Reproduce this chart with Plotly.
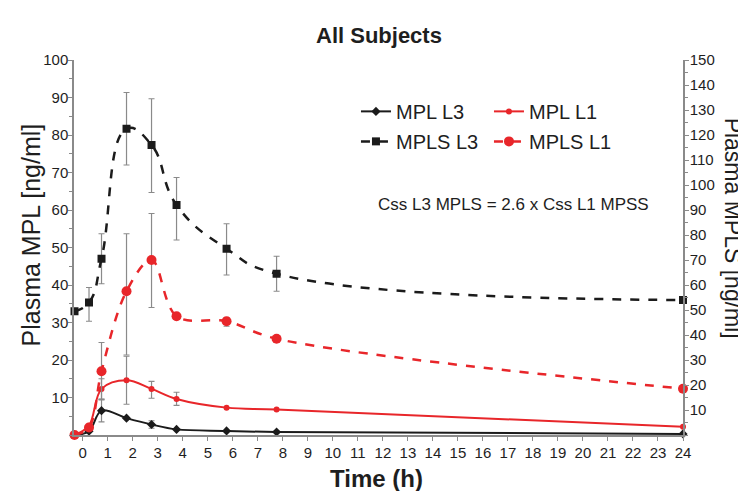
import plotly.graph_objects as go

# ---- data ----
time_h = [-0.33, 0.25, 0.75, 1.75, 2.75, 3.75, 5.75, 7.75, 24]

mpl_l3 = [0, 1.0, 6.5, 4.5, 2.8, 1.5, 1.1, 0.8, 0.3]
mpl_l3_err_up = [0, 0, 3.0, 0, 1.0, 0, 0, 0, 0]
mpl_l3_err_dn = [0, 0, 3.0, 0, 1.0, 0, 0, 0, 0]

mpl_l1 = [0, 2.5, 12.3, 14.6, 12.3, 9.6, 7.3, 6.8, 2.2]
mpl_l1_err_up = [0, 0, 2.7, 6.4, 2.0, 1.8, 0, 0, 0]
mpl_l1_err_dn = [0, 0, 2.7, 6.4, 2.5, 1.7, 0, 0, 0]

mpls_l3 = [49.5, 53, 70.5, 122.5, 116, 92, 74.5, 64.5, 54]
mpls_l3_err_up = [0, 6, 10, 14.5, 18.5, 11, 10, 7, 0]
mpls_l3_err_dn = [0, 7.5, 10, 14.5, 19, 14, 10.5, 7, 0]

mpls_l1 = [0, 3, 25.5, 57.5, 70, 47.5, 45.5, 38.5, 18.5]
mpls_l1_err_up = [0, 0, 11.5, 23, 18.6, 0, 1.5, 0, 0]
mpls_l1_err_dn = [0, 0, 11.5, 25.5, 19, 0, 2, 0, 0]

x_ticks = list(range(0, 25))
left_ticks = list(range(10, 101, 10))
right_ticks = list(range(10, 151, 10))

BLACK = "#1b1b1b"
RED = "#e8262a"
GRAY = "#8a8a8a"
TXT = "#1e1e1e"
FONT = "Liberation Sans, Arial, sans-serif"


def err(up, dn):
    return dict(type="data", symmetric=False, array=up, arrayminus=dn,
                color=GRAY, thickness=1.2, width=3)


fig = go.Figure()
fig.add_trace(go.Scatter(
    x=time_h, y=mpls_l3, name="MPLS L3", yaxis="y2", mode="lines+markers",
    line=dict(color=BLACK, width=2.5, dash="dash", shape="spline", smoothing=1.3),
    marker=dict(symbol="square", size=8, color=BLACK),
    error_y=err(mpls_l3_err_up, mpls_l3_err_dn), cliponaxis=False, legend="legend2"))
fig.add_trace(go.Scatter(
    x=time_h, y=mpls_l1, name="MPLS L1", yaxis="y2", mode="lines+markers",
    line=dict(color=RED, width=2.5, dash="dash", shape="spline", smoothing=1.0),
    marker=dict(symbol="circle", size=10, color=RED),
    error_y=err(mpls_l1_err_up, mpls_l1_err_dn), cliponaxis=False, legend="legend2"))
fig.add_trace(go.Scatter(
    x=time_h, y=mpl_l3, name="MPL L3", mode="lines+markers",
    line=dict(color=BLACK, width=2, shape="spline", smoothing=1.0),
    marker=dict(symbol="diamond", size=7, color=BLACK),
    error_y=err(mpl_l3_err_up, mpl_l3_err_dn), cliponaxis=False, legend="legend"))
fig.add_trace(go.Scatter(
    x=time_h, y=mpl_l1, name="MPL L1", mode="lines+markers",
    line=dict(color=RED, width=2, shape="spline", smoothing=1.0),
    marker=dict(symbol="circle", size=6, color=RED),
    error_y=err(mpl_l1_err_up, mpl_l1_err_dn), cliponaxis=False, legend="legend"))

axis_common = dict(showgrid=False, zeroline=False, showline=True, linecolor=GRAY,
                   linewidth=1.5, ticks="outside", tickcolor=GRAY, ticklen=4,
                   tickfont=dict(family=FONT, size=15, color=TXT))

legend_common = dict(orientation="h", x=0.463, xanchor="left", yanchor="top",
                     entrywidth=88, entrywidthmode="pixels", traceorder="normal",
                     font=dict(size=20, family=FONT, color=TXT), bgcolor="rgba(0,0,0,0)")

fig.update_layout(
    width=746, height=491,
    margin=dict(l=66, r=71, t=52, b=64),
    plot_bgcolor="white", paper_bgcolor="white",
    font=dict(family=FONT, color=TXT),
    showlegend=True,
    xaxis=dict(range=[-0.35, 24], tickmode="array", tickvals=x_ticks,
               ticklabelstandoff=-1, **axis_common),
    yaxis=dict(range=[0, 100], tickmode="array", tickvals=left_ticks,
               minor=dict(dtick=5, ticks="outside", ticklen=3, tickcolor=GRAY),
               ticklabelstandoff=-3, **axis_common),
    yaxis2=dict(range=[0, 150], overlaying="y", side="right", tickmode="array",
                tickvals=right_ticks, ticklabelstandoff=-2,
                minor=dict(dtick=5, ticks="outside", ticklen=3, tickcolor=GRAY),
                **axis_common),
    legend=dict(y=0.915, **legend_common),
    legend2=dict(y=0.835, **legend_common),
    annotations=[
        dict(text="<b>All Subjects</b>", xref="paper", yref="paper", x=0.5, y=1,
             xanchor="center", yanchor="middle", yshift=25, showarrow=False,
             font=dict(size=22, family=FONT, color=TXT)),
        dict(text="<b>Time (h)</b>", xref="paper", yref="paper", x=0.496, y=0,
             xanchor="center", yanchor="middle", yshift=-43, showarrow=False,
             font=dict(size=24, family=FONT, color=TXT)),
        dict(text="Css L3 MPLS = 2.6 x Css L1 MPSS", xref="paper", yref="paper",
             x=0.721, y=0.614, xanchor="center", yanchor="middle", showarrow=False,
             font=dict(size=17, family=FONT, color=TXT)),
        dict(text="Plasma MPL [ng/ml]", xref="paper", yref="paper", x=0, y=0.532,
             xanchor="center", yanchor="middle", xshift=-44, textangle=-90,
             showarrow=False, font=dict(size=25, family=FONT, color=TXT)),
        dict(text="Plasma MPLS [ng/ml]", xref="paper", yref="paper", x=1, y=0.553,
             xanchor="center", yanchor="middle", xshift=50, textangle=90,
             showarrow=False, font=dict(size=23, family=FONT, color=TXT)),
    ],
)

fig.write_html("out.html")
